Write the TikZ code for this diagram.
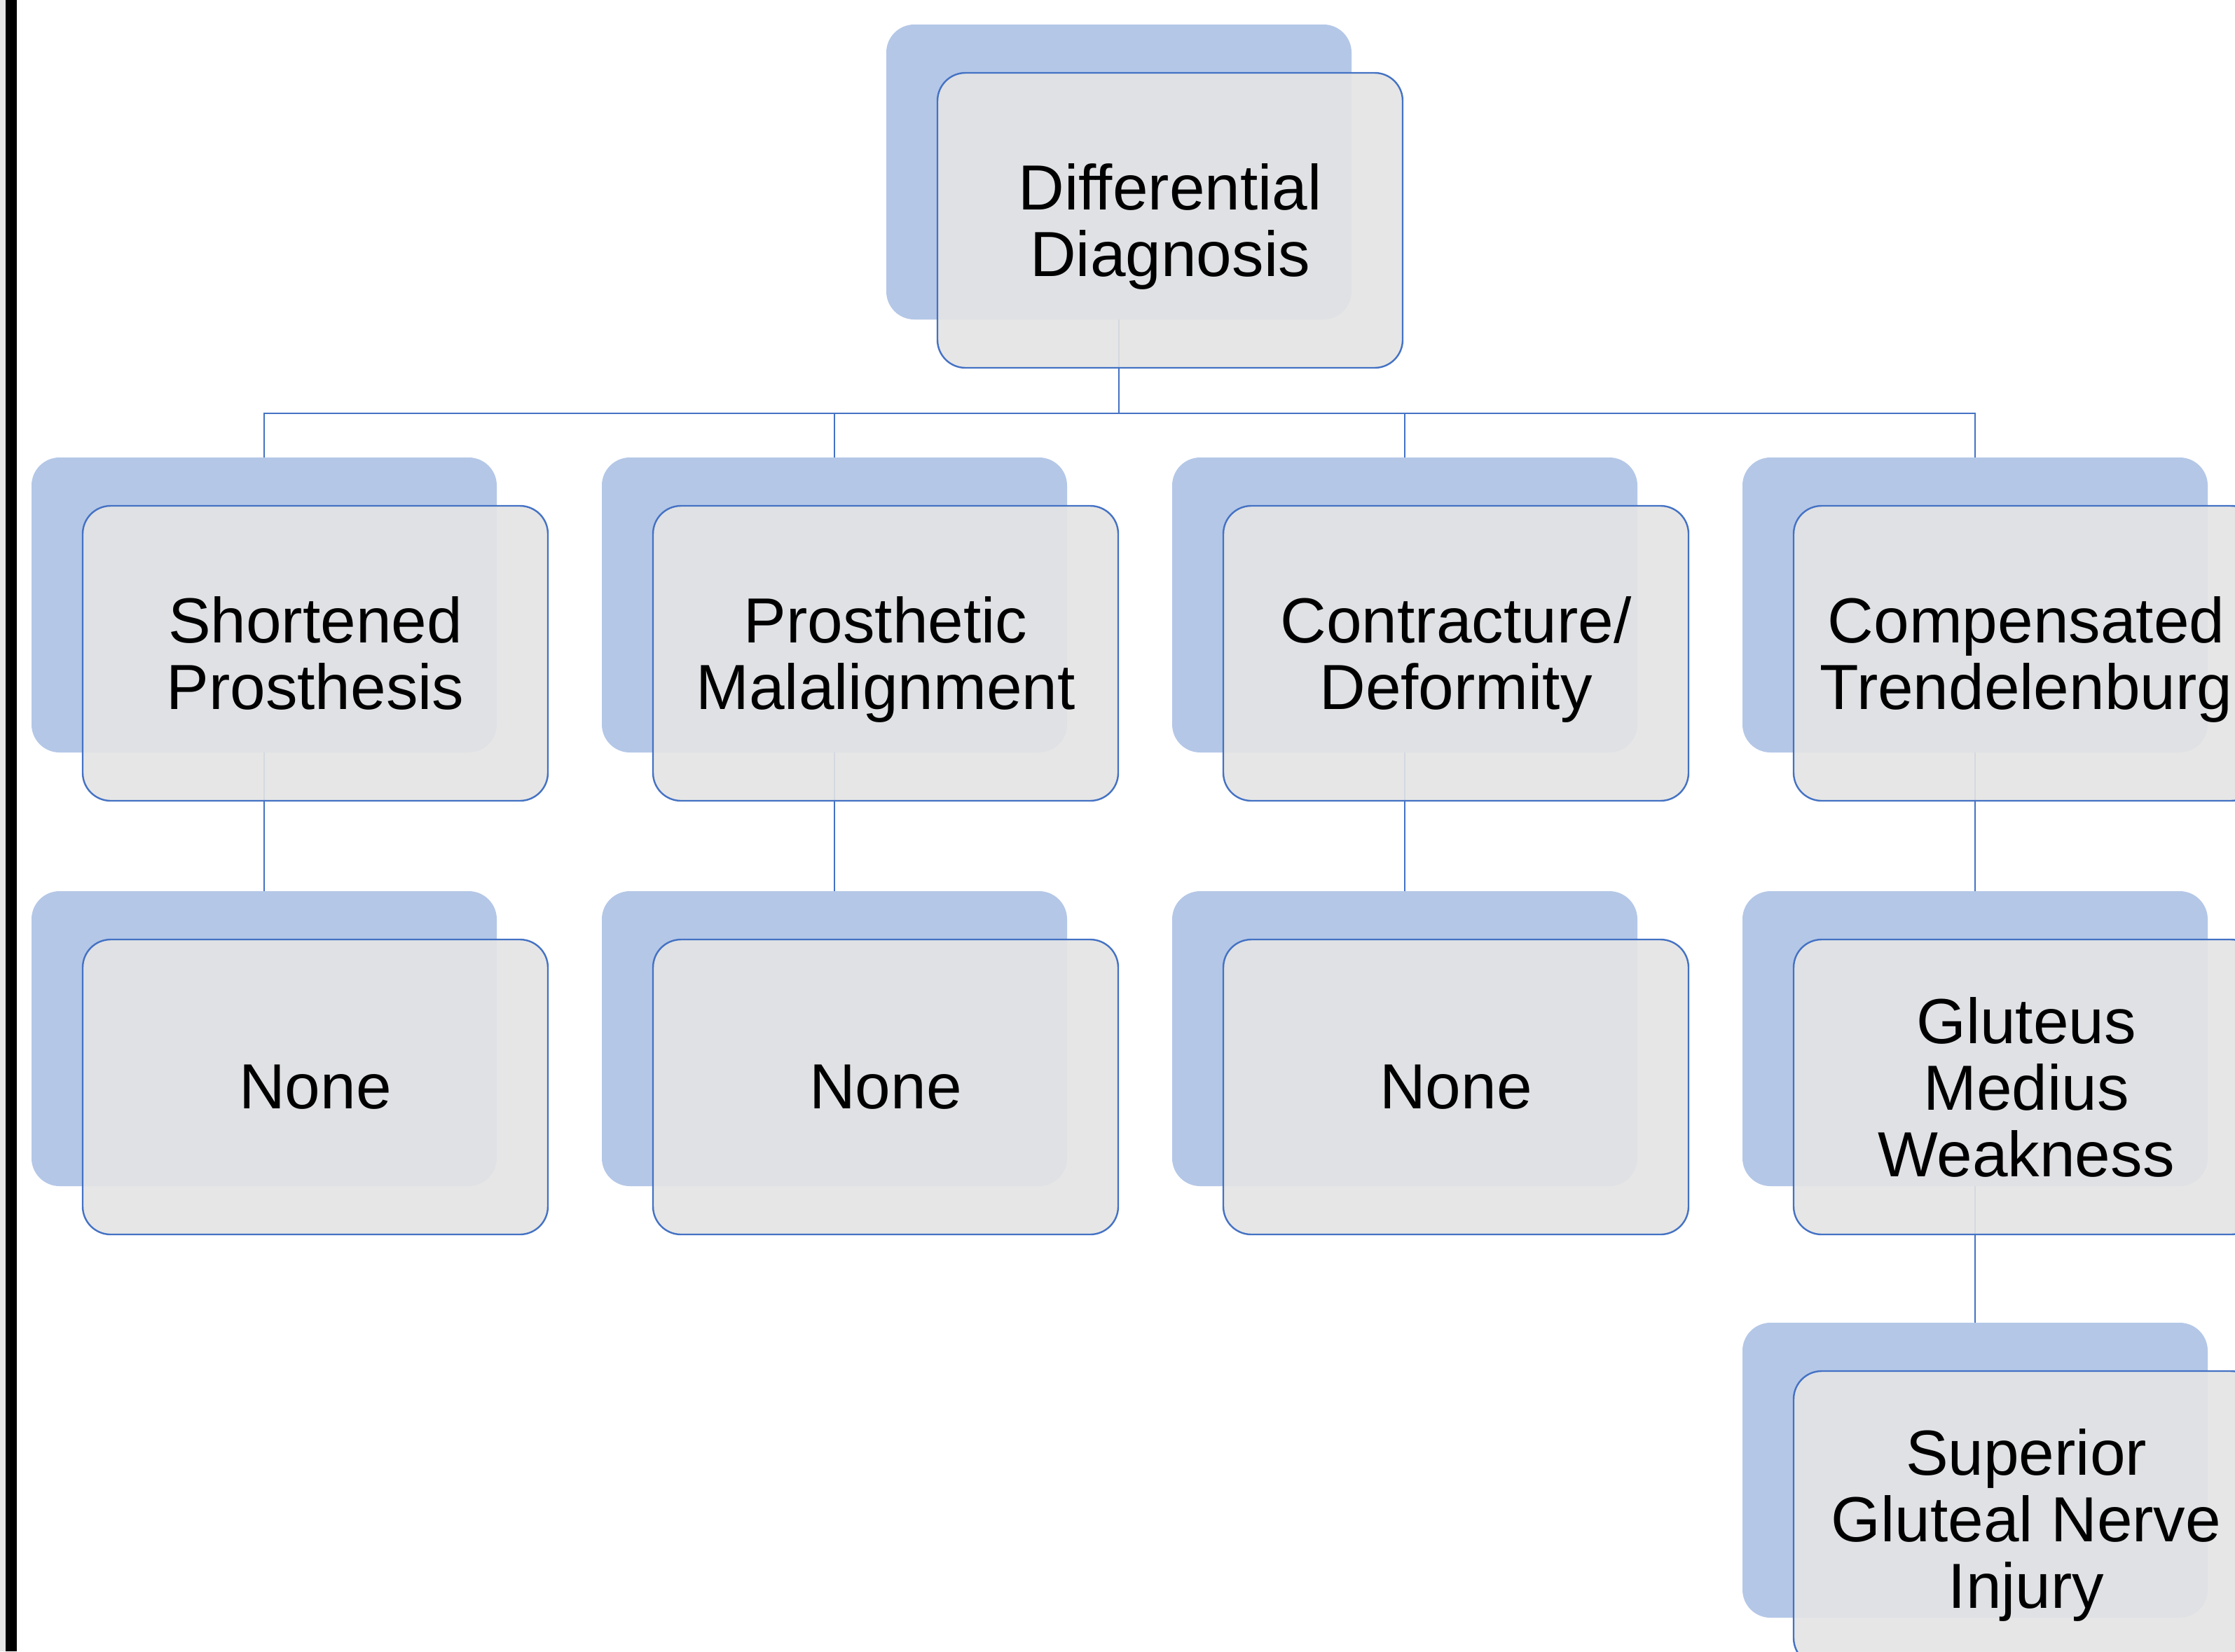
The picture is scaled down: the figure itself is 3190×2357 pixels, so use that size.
\documentclass[tikz,border=0pt]{standalone}
\usepackage{fontspec}
\setmainfont{Liberation Sans}
\newfontfamily\boxfamily[Ligatures={NoCommon}]{Liberation Sans}
\newcommand{\boxfont}{\boxfamily\fontsize{22.75pt}{23.75pt}\selectfont}
\newcommand{\nodepth}[1]{\raisebox{0pt}[\height][0pt]{#1}}
\definecolor{backblue}{HTML}{B4C7E7}
\definecolor{lineblue}{HTML}{4472C4}
\definecolor{frontgray}{RGB}{228,228,228}
\definecolor{stripgray}{HTML}{E6E6E6}
\tikzset{
  backbox/.style={fill=backblue, rounded corners=10pt, minimum width=166pt, minimum height=105.25pt, anchor=north west, inner sep=0pt, outer sep=0pt},
  frontbox/.style={draw=lineblue, line width=0.6pt, fill=frontgray, fill opacity=0.9, text opacity=1, rounded corners=10pt, minimum width=166pt, minimum height=105.25pt, anchor=north west, inner sep=0pt, outer sep=0pt, align=center, font=\boxfont},
  conn/.style={draw=lineblue, line width=0.6pt}
}
\begin{document}
\begin{tikzpicture}[x=0.25pt, y=-0.25pt]
\path[use as bounding box] (0,0) rectangle (3190,2357);
\begin{scope}
\clip (0,0) rectangle (3190,2357);
\fill[white] (0,0) rectangle (3190,2357);
% left strip
\fill[stripgray] (0,0) rectangle (8,2357);
\fill[black] (8,0) rectangle (24,2357);
% back boxes
\node[backbox] (b0) at (1265,35) {};
\node[backbox] (b11) at (45,653) {};
\node[backbox] (b12) at (859,653) {};
\node[backbox] (b13) at (1673,653) {};
\node[backbox] (b14) at (2487,653) {};
\node[backbox] (b21) at (45,1272) {};
\node[backbox] (b22) at (859,1272) {};
\node[backbox] (b23) at (1673,1272) {};
\node[backbox] (b24) at (2487,1272) {};
\node[backbox] (b34) at (2487,1888) {};
% connectors
\coordinate (hy) at (0,590);
\draw[conn] (b0.south) -- (b0.south |- hy) -| (b11.north);
\draw[conn] (b0.south |- hy) -| (b12.north);
\draw[conn] (b0.south |- hy) -| (b13.north);
\draw[conn] (b0.south |- hy) -| (b14.north);
\draw[conn] (b11.south) -- (b21.north);
\draw[conn] (b12.south) -- (b22.north);
\draw[conn] (b13.south) -- (b23.north);
\draw[conn] (b14.south) -- (b24.north);
\draw[conn] (b24.south) -- (b34.north);
% front boxes
\node[frontbox] (f0) at (1338,104) {Differential\\\nodepth{Diagnosis}};
\node[frontbox] (f11) at (118,722) {Shortened\\Prosthesis};
\node[frontbox] (f12) at (932,722) {Prosthetic\\\nodepth{Malalignment}};
\node[frontbox] (f13) at (1746,722) {Contracture/\\\nodepth{Deformity}};
\node[frontbox] (f14) at (2560,722) {Compensated\\\nodepth{Trendelenburg}};
\node[frontbox] (f21) at (118,1341) {None};
\node[frontbox] (f22) at (932,1341) {None};
\node[frontbox] (f23) at (1746,1341) {None};
\node[frontbox] (f24) at (2560,1341) {Gluteus\\Medius\\Weakness};
\node[frontbox] (f34) at (2560,1957) {Superior\\Gluteal Nerve\\\nodepth{Injury}};
\end{scope}
\end{tikzpicture}
\end{document}
